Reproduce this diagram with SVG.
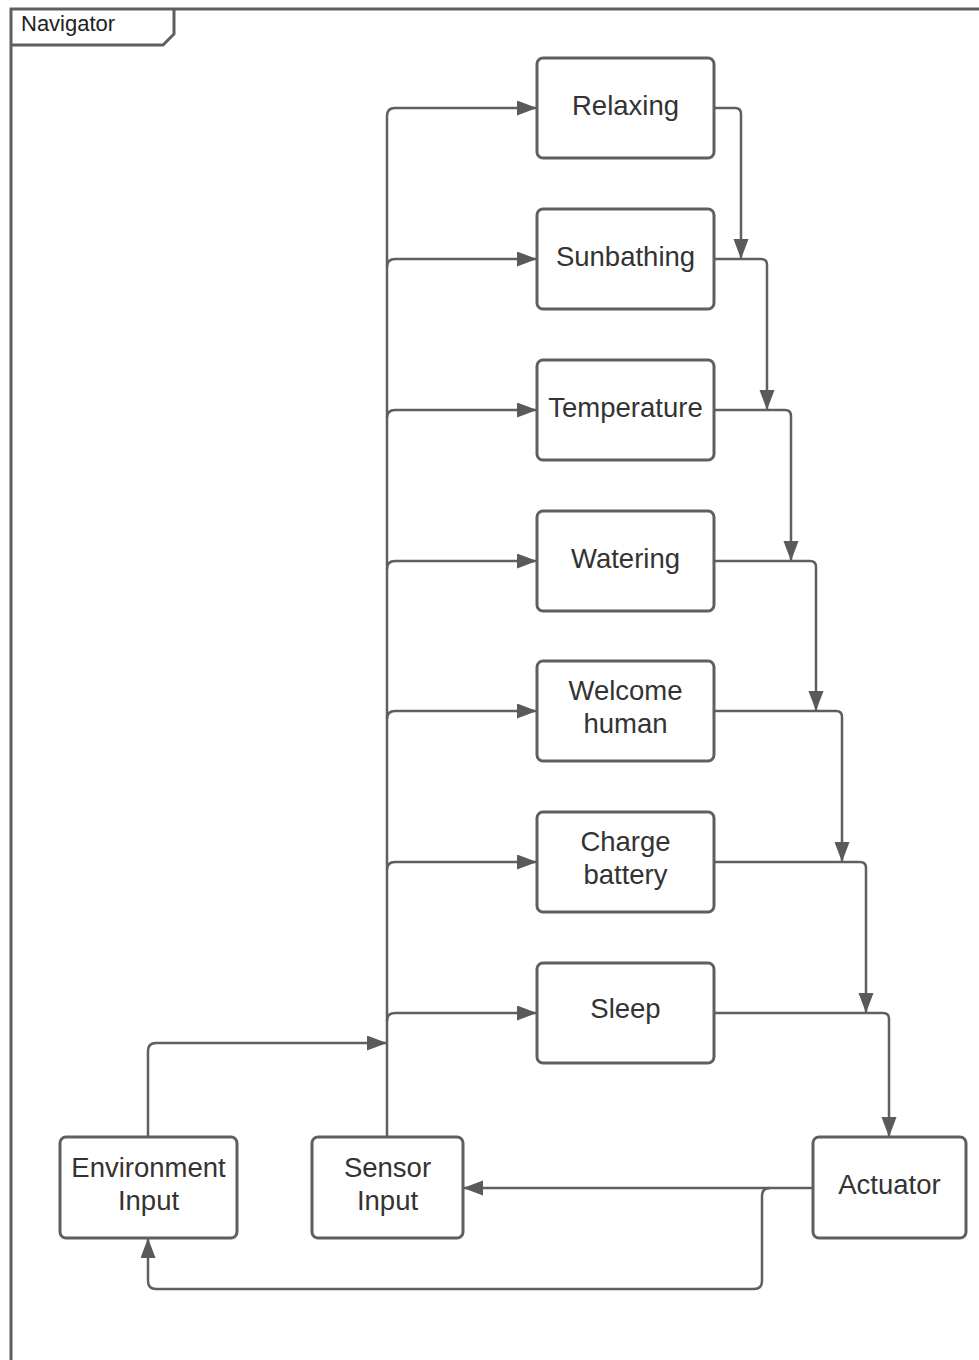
<svg xmlns="http://www.w3.org/2000/svg" width="979" height="1360" viewBox="0 0 979 1360">
<style>
.frame{fill:none;stroke:#5f5f5f;stroke-width:3}
.node{fill:#fff;stroke:#5f5f5f;stroke-width:3}
.lbl{font-family:"Liberation Sans",Arial,sans-serif;font-size:27.5px;fill:#333;text-anchor:middle}
.ttl{font-family:"Liberation Sans",Arial,sans-serif;font-size:22px;fill:#222}
.c{fill:none;stroke:#5f5f5f;stroke-width:2.5}
</style>
<defs>
<marker id="ah" markerUnits="userSpaceOnUse" markerWidth="22" markerHeight="16" refX="20" refY="7.5" orient="auto">
<path d="M0,0 L20,7.5 L0,15 Z" fill="#5a5a5a"/>
</marker>
</defs>
<rect width="979" height="1360" fill="#fff"/>
<g id="frame">
<rect class="frame" x="11" y="9" width="1000" height="1400"/>
<path class="frame" d="M11 45 H163 L174 34 V9"/>
<text class="ttl" x="21" y="31">Navigator</text>
</g>
<g id="connectors">
<path class="c" marker-end="url(#ah)" d="M387 1137 V116 Q387 108 395 108 H537"/>
<path class="c" marker-end="url(#ah)" d="M387 267 Q387 259 395 259 H537"/>
<path class="c" marker-end="url(#ah)" d="M387 418 Q387 410 395 410 H537"/>
<path class="c" marker-end="url(#ah)" d="M387 569 Q387 561 395 561 H537"/>
<path class="c" marker-end="url(#ah)" d="M387 719 Q387 711 395 711 H537"/>
<path class="c" marker-end="url(#ah)" d="M387 870 Q387 862 395 862 H537"/>
<path class="c" marker-end="url(#ah)" d="M387 1021 Q387 1013 395 1013 H537"/>
<path class="c" marker-end="url(#ah)" d="M148 1137 V1051 Q148 1043 156 1043 H387"/>
<path class="c" marker-end="url(#ah)" d="M714 108 H735 Q741 108 741 114 V259"/>
<path class="c" marker-end="url(#ah)" d="M714 259 H761 Q767 259 767 265 V410"/>
<path class="c" marker-end="url(#ah)" d="M714 410 H785 Q791 410 791 416 V561"/>
<path class="c" marker-end="url(#ah)" d="M714 561 H810 Q816 561 816 567 V711"/>
<path class="c" marker-end="url(#ah)" d="M714 711 H836 Q842 711 842 717 V862"/>
<path class="c" marker-end="url(#ah)" d="M714 862 H860 Q866 862 866 868 V1013"/>
<path class="c" marker-end="url(#ah)" d="M714 1013 H883 Q889 1013 889 1019 V1137"/>
<path class="c" marker-end="url(#ah)" d="M813 1188 H463"/>
<path class="c" marker-end="url(#ah)" d="M770 1188 Q762 1188 762 1196 V1281 Q762 1289 754 1289 H156 Q148 1289 148 1281 V1238"/>
</g>
<g id="relaxing"><rect class="node" x="537" y="58" width="177" height="100" rx="6"/><text class="lbl" x="625.5" y="115">Relaxing</text></g>
<g id="sunbathing"><rect class="node" x="537" y="209" width="177" height="100" rx="6"/><text class="lbl" x="625.5" y="266">Sunbathing</text></g>
<g id="temperature"><rect class="node" x="537" y="360" width="177" height="100" rx="6"/><text class="lbl" x="625.5" y="417">Temperature</text></g>
<g id="watering"><rect class="node" x="537" y="511" width="177" height="100" rx="6"/><text class="lbl" x="625.5" y="568">Watering</text></g>
<g id="welcome-human"><rect class="node" x="537" y="661" width="177" height="100" rx="6"/><text class="lbl" x="625.5" y="700">Welcome</text><text class="lbl" x="625.5" y="733">human</text></g>
<g id="charge-battery"><rect class="node" x="537" y="812" width="177" height="100" rx="6"/><text class="lbl" x="625.5" y="851">Charge</text><text class="lbl" x="625.5" y="884">battery</text></g>
<g id="sleep"><rect class="node" x="537" y="963" width="177" height="100" rx="6"/><text class="lbl" x="625.5" y="1018">Sleep</text></g>
<g id="environment-input"><rect class="node" x="60" y="1137" width="177" height="101" rx="6"/><text class="lbl" x="148.5" y="1177">Environment</text><text class="lbl" x="148.5" y="1210">Input</text></g>
<g id="sensor-input"><rect class="node" x="312" y="1137" width="151" height="101" rx="6"/><text class="lbl" x="387.5" y="1177">Sensor</text><text class="lbl" x="387.5" y="1210">Input</text></g>
<g id="actuator"><rect class="node" x="813" y="1137" width="153" height="101" rx="6"/><text class="lbl" x="889.5" y="1194">Actuator</text></g>
</svg>
